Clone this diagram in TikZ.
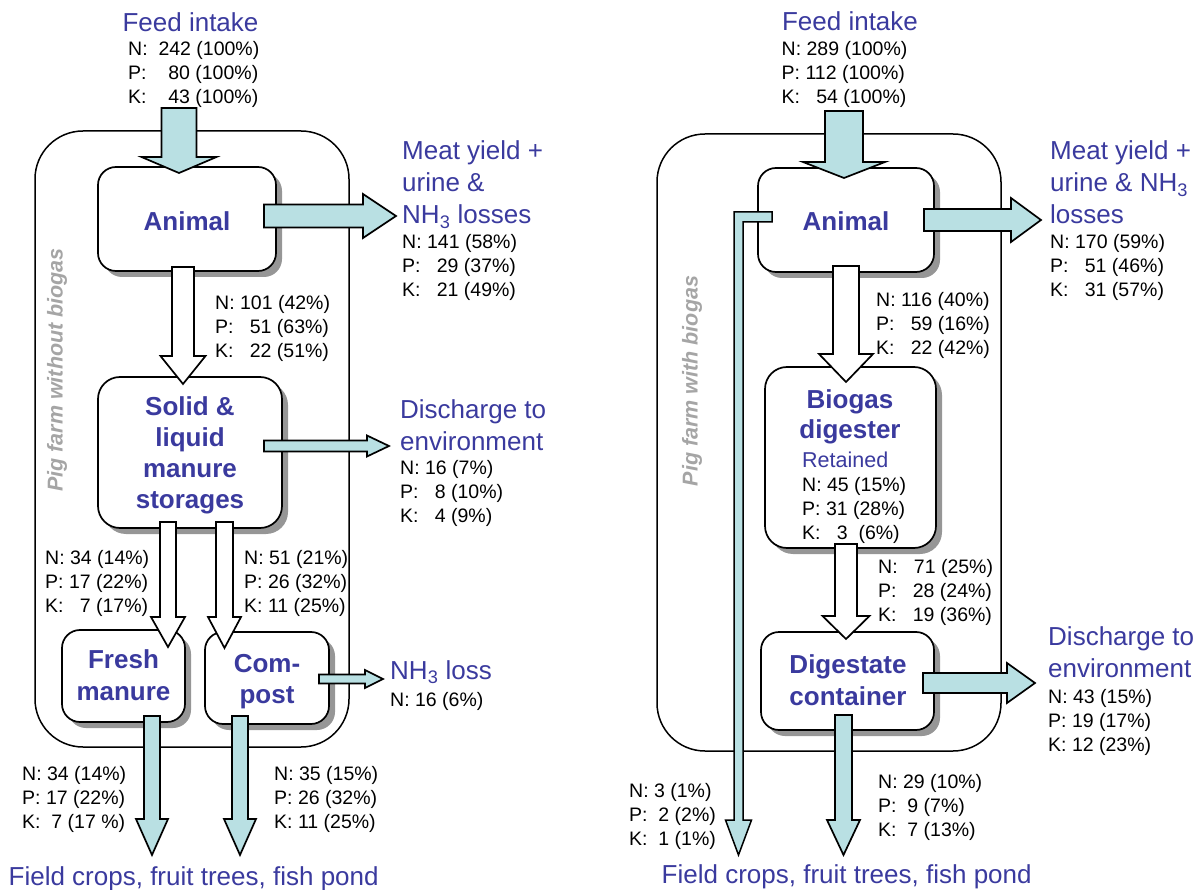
\documentclass[tikz,border=0pt]{standalone}
\usepackage{fontspec}
\setmainfont{Liberation Sans}
\usetikzlibrary{calc,shadows}
\definecolor{blueT}{RGB}{58,58,158}
\definecolor{cyanF}{RGB}{185,224,227}
\definecolor{shadowG}{RGB}{150,150,150}
\definecolor{pigG}{RGB}{165,165,165}
\tikzset{
  outerbox/.style={draw=black, line width=1.5pt, rounded corners=48pt},
  procbox/.style={draw=black, fill=white, line width=1.7pt, rounded corners=#1,
    drop shadow={shadow xshift=6pt, shadow yshift=-6pt, fill=shadowG, opacity=1}},
  procbox/.default=18pt,
  cyanarr/.style={draw=black, fill=cyanF, line width=1.7pt, line join=miter},
  whitearr/.style={draw=black, fill=white, line width=1.7pt, line join=miter},
  lbl/.style={font=\fontsize{26}{32}\selectfont, text=blueT, inner sep=0pt, anchor=base west},
  lblc/.style={font=\fontsize{26}{32}\selectfont, text=blueT, inner sep=0pt, anchor=base},
  num/.style={font=\fontsize{19.5}{24}\selectfont, text=black, inner sep=0pt, anchor=base west},
  btxt/.style={font=\fontsize{26}{31}\selectfont\bfseries, text=blueT, inner sep=0pt, anchor=base},
  pigtxt/.style={font=\fontsize{21.5}{26}\selectfont\bfseries\itshape, text=pigG, inner sep=0pt, rotate=90},
}
% lines of text: style, name, x, first baseline y, line spacing, list
\newcommand\tlines[6]{\foreach \myl [count=\i] in {#6}{\node[#1] (#2-\i) at (#3,{#4+#5*(\i-1)}) {\myl};}}
% vertical block arrow: style, start coord, tip coord, shaft half width, head half width, head length
\newcommand\varr[6]{\draw[#1] let \p1=(#2), \p2=(#3) in
  (\x1-#4pt,\y1) -- (\x1+#4pt,\y1) -- (\x1+#4pt,\y2+#6pt) -- (\x1+#5pt,\y2+#6pt) -- (\x1,\y2)
  -- (\x1-#5pt,\y2+#6pt) -- (\x1-#4pt,\y2+#6pt) -- cycle;}
% horizontal block arrow (to the right)
\newcommand\harr[6]{\draw[#1] let \p1=(#2), \p2=(#3) in
  (\x1,\y1+#4pt) -- (\x2-#6pt,\y1+#4pt) -- (\x2-#6pt,\y1+#5pt) -- (\x2,\y1)
  -- (\x2-#6pt,\y1-#5pt) -- (\x2-#6pt,\y1-#4pt) -- (\x1,\y1-#4pt) -- cycle;}
\begin{document}
\begin{tikzpicture}[x=1pt,y=-1pt]
\useasboundingbox (0,0) rectangle (1202,890);

% ================= LEFT PANEL =================
\node[outerbox, minimum width=314pt, minimum height=616pt, inner sep=0pt] (outerL) at (192,439) {};
\node[procbox, minimum width=178pt, minimum height=104pt] (animalL) at (187,219) {};
\node[procbox=22pt, minimum width=184pt, minimum height=151pt] (solidL) at (190,452.5) {};
\node[procbox, minimum width=123pt, minimum height=92pt] (freshL) at (123.5,676) {};
\node[procbox, minimum width=124pt, minimum height=92pt] (compL) at (267,678) {};

% arrow end points
\coordinate (fL1) at (179,108);  \coordinate (fL2) at (179,173);
\coordinate (mL1) at (264,216);  \coordinate (mL2) at (396,216);
\coordinate (sL1) at (183,267);  \coordinate (sL2) at (183,384);
\coordinate (dL1) at (264,446);  \coordinate (dL2) at (389,446);
\coordinate (frL1) at (168,522); \coordinate (frL2) at (168,647);
\coordinate (coL1) at (224.5,522); \coordinate (coL2) at (224.5,648);
\coordinate (nL1) at (319,679);  \coordinate (nL2) at (383,679);
\coordinate (ffL1) at (152,716); \coordinate (ffL2) at (152,855);
\coordinate (cfL1) at (240,716); \coordinate (cfL2) at (240,855);

\varr{cyanarr}{fL1}{fL2}{17.5}{37.5}{16}
\harr{cyanarr}{mL1}{mL2}{11.5}{22}{33}
\varr{whitearr}{sL1}{sL2}{11}{22.5}{28}
\harr{cyanarr}{dL1}{dL2}{5.5}{10.5}{22}
\varr{whitearr}{frL1}{frL2}{8}{17}{30}
\varr{whitearr}{coL1}{coL2}{8.5}{16.5}{31}
\harr{cyanarr}{nL1}{nL2}{4.5}{9}{18}
\varr{cyanarr}{ffL1}{ffL2}{8}{16}{36}
\varr{cyanarr}{cfL1}{cfL2}{8}{16}{36}

% texts
\node[lblc] (feedL) at (190.5,32) {Feed intake};
\tlines{num}{feedLn}{128}{56}{24}{{N:\ \ 242 (100\%)},{P:\ \ \ \ 80 (100\%)},{K:\ \ \ \ 43 (100\%)}}
\node[btxt] (animalLt) at (187,231) {Animal};
\tlines{lbl}{meatL}{402}{160}{32}{{Meat yield +},{urine \&},{NH\textsubscript{3} losses}}
\tlines{num}{meatLn}{402}{249}{24}{{N: 141 (58\%)},{P:\ \ \ 29 (37\%)},{K:\ \ \ 21 (49\%)}}
\tlines{num}{aLn}{215}{310}{24}{{N: 101 (42\%)},{P:\ \ \ 51 (63\%)},{K:\ \ \ 22 (51\%)}}
\tlines{btxt}{solidLt}{190}{415}{31}{{Solid \&},{liquid},{manure},{storages}}
\tlines{lbl}{discL}{400}{418}{32}{{Discharge to},{environment}}
\tlines{num}{discLn}{400}{474}{24}{{N: 16 (7\%)},{P:\ \ \ 8 (10\%)},{K:\ \ \ 4 (9\%)}}
\tlines{num}{frLn}{45}{564}{24}{{N: 34 (14\%)},{P: 17 (22\%)},{K:\ \ \ 7 (17\%)}}
\tlines{num}{coLn}{244}{564}{24}{{N: 51 (21\%)},{P: 26 (32\%)},{K: 11 (25\%)}}
\tlines{btxt}{freshLt}{123.5}{668}{32}{{Fresh},{manure}}
\tlines{btxt}{compLt}{267}{672}{31}{{Com-},{post}}
\node[lbl] (nh3L) at (390,679) {NH\textsubscript{3} loss};
\node[num] (nh3Ln) at (390,706) {N: 16 (6\%)};
\tlines{num}{ffLn}{22}{780}{24}{{N: 34 (14\%)},{P: 17 (22\%)},{K:\ \ 7 (17 \%)}}
\tlines{num}{cfLn}{274}{780}{24}{{N: 35 (15\%)},{P: 26 (32\%)},{K: 11 (25\%)}}
\node[lbl] (fieldL) at (8.5,885) {Field crops, fruit trees, fish pond};
\node[pigtxt] (pigL) at (57,370) {Pig farm without biogas};

% ================= RIGHT PANEL =================
\node[outerbox, minimum width=344pt, minimum height=617pt, inner sep=0pt] (outerR) at (829,442.5) {};
\node[procbox, minimum width=176pt, minimum height=104pt] (animalR) at (846,220) {};
\node[procbox=22pt, minimum width=171pt, minimum height=181pt] (biogasR) at (850.5,457.5) {};
\node[procbox, minimum width=173pt, minimum height=98pt] (digR) at (847.5,681) {};

\coordinate (fR1) at (844,111);  \coordinate (fR2) at (844,178);
\coordinate (mR1) at (924,220);  \coordinate (mR2) at (1041,220);
\coordinate (bR1) at (846,266);  \coordinate (bR2) at (846,382);
\coordinate (gR1) at (846,544);  \coordinate (gR2) at (846,639);
\coordinate (dR1) at (923,683);  \coordinate (dR2) at (1035,683);
\coordinate (ffR1) at (843.5,715); \coordinate (ffR2) at (843.5,855);
\coordinate (bypS) at (772,217); \coordinate (bypT) at (738.5,855);

\varr{cyanarr}{fR1}{fR2}{19}{41}{16}
\harr{cyanarr}{mR1}{mR2}{11}{22}{30}
\varr{whitearr}{bR1}{bR2}{13}{27}{28}
\varr{whitearr}{gR1}{gR2}{11}{23.5}{23}
\harr{cyanarr}{dR1}{dR2}{10}{20}{28}
\varr{cyanarr}{ffR1}{ffR2}{8.5}{16.5}{35}
\draw[cyanarr, line width=1.5pt] let \p1=(bypS), \p2=(bypT) in
  (\x1,\y1+5pt) -- (\x2-4.5pt,\y1+5pt) -- (\x2-4.5pt,\y2+35pt) -- (\x2-13pt,\y2+35pt) -- (\x2,\y2)
  -- (\x2+13pt,\y2+35pt) -- (\x2+4.5pt,\y2+35pt) -- (\x2+4.5pt,\y1-5pt) -- (\x1,\y1-5pt) -- cycle;

\node[lblc] (feedR) at (850,31) {Feed intake};
\tlines{num}{feedRn}{781.5}{56}{24}{{N: 289 (100\%)},{P: 112 (100\%)},{K:\ \ \ 54 (100\%)}}
\node[btxt] (animalRt) at (846,231) {Animal};
\tlines{lbl}{meatR}{1050}{160}{32}{{Meat yield +},{urine \& NH\textsubscript{3}},{losses}}
\tlines{num}{meatRn}{1050}{249}{24}{{N: 170 (59\%)},{P:\ \ \ 51 (46\%)},{K:\ \ \ 31 (57\%)}}
\tlines{num}{aRn}{876}{307}{24}{{N: 116 (40\%)},{P:\ \ \ 59 (16\%)},{K:\ \ \ 22 (42\%)}}
\tlines{btxt}{biogasRt}{850}{408}{30}{{Biogas},{digester}}
\node[font=\fontsize{21.5}{26}\selectfont, text=blueT, inner sep=0pt, anchor=base west] (retR) at (802,467) {Retained};
\tlines{num}{retRn}{802}{491}{24}{{N: 45 (15\%)},{P: 31 (28\%)},{K:\ \ \ 3\ \ (6\%)}}
\tlines{num}{gRn}{878}{573}{24}{{N:\ \ \ 71 (25\%)},{P:\ \ \ 28 (24\%)},{K:\ \ \ 19 (36\%)}}
\tlines{btxt}{digRt}{848}{673}{32}{{Digestate},{container}}
\tlines{lbl}{discR}{1048}{645}{32}{{Discharge to},{environment}}
\tlines{num}{discRn}{1048}{703}{24}{{N: 43 (15\%)},{P: 19 (17\%)},{K: 12 (23\%)}}
\tlines{num}{ffRn}{878}{788}{24}{{N: 29 (10\%)},{P:\ \ 9 (7\%)},{K:\ \ 7 (13\%)}}
\tlines{num}{bypRn}{629}{797}{24}{{N: 3 (1\%)},{P:\ \ 2 (2\%)},{K:\ \ 1 (1\%)}}
\node[lbl] (fieldR) at (661.5,883) {Field crops, fruit trees, fish pond};
\node[pigtxt] (pigR) at (692,381) {Pig farm with biogas};
\end{tikzpicture}
\end{document}
